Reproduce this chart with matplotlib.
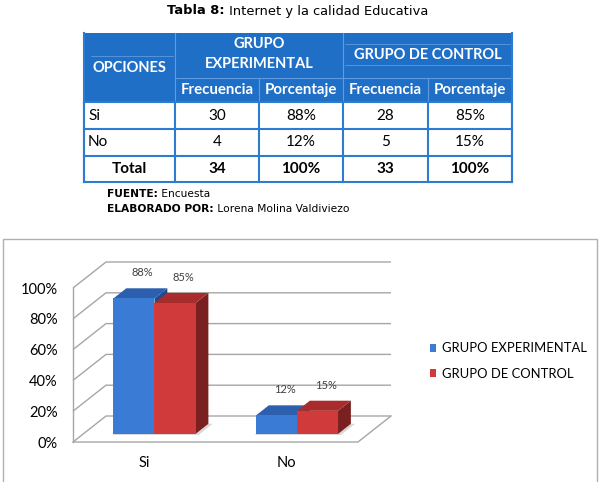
import matplotlib
matplotlib.use("Agg")
import matplotlib.pyplot as plt
from matplotlib.patches import Polygon, Rectangle, Patch

# ---------- data ----------
categories = ["Si", "No"]
series_names = ["GRUPO EXPERIMENTAL", "GRUPO DE CONTROL"]
exp_pct = [88, 12]
ctl_pct = [85, 15]
exp_freq = [30, 4]
ctl_freq = [28, 5]
total_freq = [34, 33]
yticks = [0, 20, 40, 60, 80, 100]

title_bold = "Tabla 8:"
title_rest = " Internet y la calidad Educativa"

# ---------- colours ----------
blue = {"front": "#3A7BD5", "top": "#2C5FAE", "side": "#214B8C"}
red = {"front": "#D03A3A", "top": "#A92C2C", "side": "#7B2020"}
hdr_blue = "#1F6FC6"
line_blue = "#2E7CD0"
grid_col = "#A6A6A6"

W, H = 601, 482
fig = plt.figure(figsize=(W / 100, H / 100), dpi=100)
fig.patch.set_facecolor("white")

# overlay axes in pixel coordinates for table / frame
ax0 = fig.add_axes([0, 0, 1, 1])
ax0.set_xlim(0, W)
ax0.set_ylim(H, 0)
ax0.axis("off")
renderer = fig.canvas.get_renderer()


def run_text(x, y, parts, size, family):
    # draw consecutive text runs (bold / normal) on one line
    for txt, weight in parts:
        t = ax0.text(x, y, txt, fontsize=size, fontweight=weight, family=family,
                     ha="left", va="center", color="black")
        bb = t.get_window_extent(renderer)
        x += bb.width


# ---------- title ----------
run_text(167, 11, [(title_bold, "bold"), (title_rest, "normal")], 9.4, "DejaVu Sans")

# ---------- table ----------
cols = [84, 175, 259, 343, 428, 512]
rows = [33, 78, 102, 129, 156, 182]
tfont = "Lato"

ax0.add_patch(Rectangle((cols[0], rows[0]), cols[-1] - cols[0], rows[2] - rows[0],
                        facecolor=hdr_blue, edgecolor="none"))
light = "#5F9BE0"
ax0.plot([cols[1], cols[1]], [rows[0], rows[2]], color=light, lw=0.8)
ax0.plot([cols[3], cols[3]], [rows[0], rows[2]], color=light, lw=0.8)
ax0.plot([cols[2], cols[2]], [rows[1], rows[2]], color=light, lw=0.8)
ax0.plot([cols[4], cols[4]], [rows[1], rows[2]], color=light, lw=0.8)
ax0.plot([cols[1], cols[-1]], [rows[1], rows[1]], color=light, lw=0.8)
ax0.plot([cols[3] + 2, cols[-1] - 2], [44, 44], color=light, lw=0.6)
ax0.plot([cols[3] + 2, cols[-1] - 2], [65, 65], color=light, lw=0.6)
ax0.plot([cols[0] + 7, cols[1] - 2], [56, 56], color=light, lw=0.6)

wt = dict(color="white", fontweight="bold", family=tfont, ha="center", va="center")
ax0.text((cols[0] + cols[1]) / 2, 68, "OPCIONES", fontsize=10.5, **wt)
ax0.text((cols[1] + cols[3]) / 2, 44, "GRUPO", fontsize=10.5, **wt)
ax0.text((cols[1] + cols[3]) / 2, 64, "EXPERIMENTAL", fontsize=10.5, **wt)
ax0.text((cols[3] + cols[5]) / 2, 55, "GRUPO DE CONTROL", fontsize=10.5, **wt)
for i, lab in enumerate(["Frecuencia", "Porcentaje", "Frecuencia", "Porcentaje"]):
    ax0.text((cols[i + 1] + cols[i + 2]) / 2, 90, lab, fontsize=10.8, **wt)

# body grid
for yy in rows[2:]:
    ax0.plot([cols[0], cols[-1]], [yy, yy], color=line_blue, lw=1.5)
for xx in cols:
    ax0.plot([xx, xx], [rows[2], rows[-1]], color=line_blue, lw=1.5)
ax0.plot([cols[0], cols[0]], [rows[0], rows[-1]], color=line_blue, lw=1.5)
ax0.plot([cols[-1], cols[-1]], [rows[0], rows[-1]], color=line_blue, lw=1.5)

bt = dict(color="black", family=tfont, ha="center", va="center", fontsize=11)
for r, cat in enumerate(categories):
    yc = (rows[2 + r] + rows[3 + r]) / 2
    ax0.text(cols[0] + 4, yc, cat, color="black", family=tfont, ha="left",
             va="center", fontsize=11)
    vals = [exp_freq[r], f"{exp_pct[r]}%", ctl_freq[r], f"{ctl_pct[r]}%"]
    for c, v in enumerate(vals):
        ax0.text((cols[c + 1] + cols[c + 2]) / 2, yc, str(v), **bt)
yc = (rows[4] + rows[5]) / 2
ax0.text((cols[0] + cols[1]) / 2, yc, "Total", fontweight="bold", **bt)
tot_vals = [total_freq[0], "100%", total_freq[1], "100%"]
for c, v in enumerate(tot_vals):
    ax0.text((cols[c + 1] + cols[c + 2]) / 2, yc, str(v), fontweight="bold", **bt)

run_text(107, 194, [("FUENTE:", "bold"), (" Encuesta", "normal")], 7.7, "DejaVu Sans")
run_text(107, 209, [("ELABORADO POR:", "bold"), (" Lorena Molina Valdiviezo", "normal")],
         7.7, "DejaVu Sans")

# chart frame
ax0.add_patch(Rectangle((3, 239), 594, 246, facecolor="none", edgecolor="#B0B0B0", lw=1))

# ---------- pseudo 3D bar chart ----------
px_per_cat = 142.5
px_per_pct = 1.54
x_left, x_right, y_floor, y_top = 73, 392, 442, 250
ax = fig.add_axes([x_left / W, (H - y_floor) / H, (x_right - x_left) / W,
                   (y_floor - y_top) / H])
ax.set_xlim(0, (x_right - x_left) / px_per_cat)
ax.set_ylim(0, (y_floor - y_top) / px_per_pct)
ax.patch.set_alpha(0)
for s in ax.spines.values():
    s.set_visible(False)

DX = 33 / px_per_cat   # full depth offset (x, category units)
DY = 26 / px_per_pct   # full depth offset (y, percent units)
ncat = len(categories)


def P(x, y, d):
    return (x + d * DX, y + d * DY)


# walls / gridlines
for v in yticks:
    ax.plot(*zip(P(0, v, 0), P(0, v, 1), P(ncat, v, 1)), color=grid_col, lw=1,
            clip_on=False, solid_capstyle="butt")
ax.plot(*zip(P(0, 0, 0), P(0, yticks[-1], 0)), color=grid_col, lw=1, clip_on=False)
ax.plot(*zip(P(0, 0, 0), P(ncat, 0, 0), P(ncat, 0, 1)), color=grid_col, lw=1,
        clip_on=False)

bw = 0.288
d0, d1 = 0.31, 0.70
for i in range(ncat):
    for j, (vals, col) in enumerate([(exp_pct, blue), (ctl_pct, red)]):
        v = vals[i]
        x0 = i + 0.5 - bw + j * bw
        x1 = x0 + bw
        # soft shadow on floor
        ax.add_patch(Polygon([P(x0, 0, d0 - 0.04), P(x1 + 0.03, 0, d0 - 0.04),
                              P(x1 + 0.03, 0, d1), P(x0, 0, d1)],
                             closed=True, facecolor="#D8D8D8", edgecolor="none",
                             clip_on=False, zorder=2))
        front = Polygon([P(x0, 0, d0), P(x1, 0, d0), P(x1, v, d0), P(x0, v, d0)],
                        closed=True, facecolor=col["front"], edgecolor="none",
                        clip_on=False, zorder=3)
        top = Polygon([P(x0, v, d0), P(x1, v, d0), P(x1, v, d1), P(x0, v, d1)],
                      closed=True, facecolor=col["top"], edgecolor="none",
                      clip_on=False, zorder=3)
        side = Polygon([P(x1, 0, d0), P(x1, 0, d1), P(x1, v, d1), P(x1, v, d0)],
                       closed=True, facecolor=col["side"], edgecolor="none",
                       clip_on=False, zorder=3)
        ax.add_patch(side)
        ax.add_patch(top)
        ax.add_patch(front)
        lx, ly = P((x0 + x1) / 2, v, d1)
        ax.text(lx - 0.03, ly + 10, f"{v}%", fontsize=8, family="Lato",
                color="#404040", ha="center", va="center", zorder=5)

ax.set_yticks(yticks)
ax.set_yticklabels([f"{v}%" for v in yticks], family="Lato", fontsize=10.5)
ax.set_xticks([i + 0.5 for i in range(ncat)])
ax.set_xticklabels(categories, family="Lato", fontsize=10.5)
ax.tick_params(axis="y", length=0, pad=11, colors="black")
ax.tick_params(axis="x", length=0, pad=10, colors="black")

leg_handles = [Patch(facecolor=blue["front"]), Patch(facecolor=red["front"])]
fig.legend(leg_handles, series_names, loc="center left",
           bbox_to_anchor=(418 / W, 1 - 361 / H), frameon=False,
           handlelength=0.5, handleheight=0.5, handletextpad=0.45,
           labelspacing=1.0, prop={"family": "Lato", "size": 9.4})

fig.savefig("out.png", dpi=100)
